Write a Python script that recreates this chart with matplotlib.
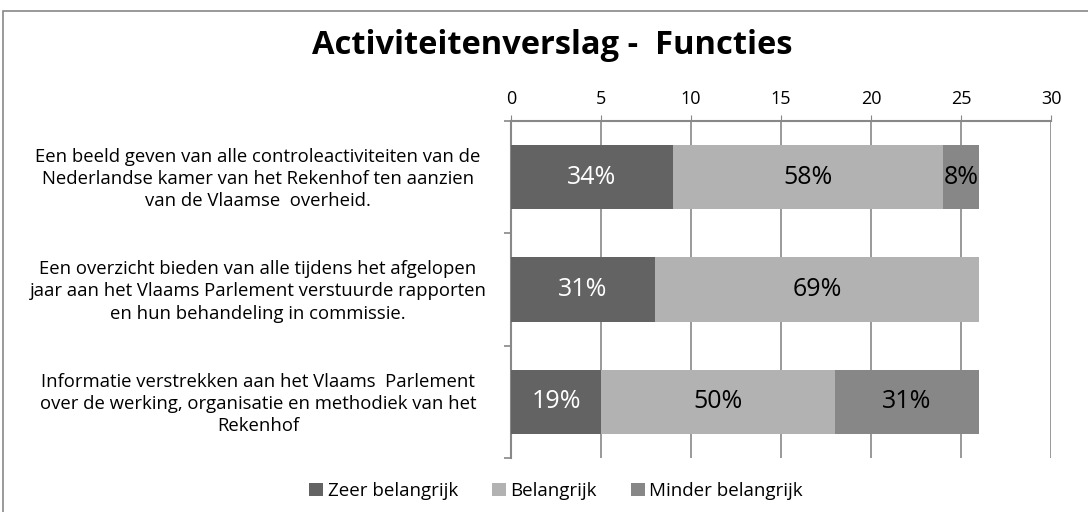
import numpy as np
import matplotlib.pyplot as plt
from matplotlib.patches import Rectangle

categories = [
    "Een beeld geven van alle controleactiviteiten van de\n"
    "Nederlandse kamer van het Rekenhof ten aanzien\n"
    "van de Vlaamse  overheid.",
    "Een overzicht bieden van alle tijdens het afgelopen\n"
    "jaar aan het Vlaams Parlement verstuurde rapporten\n"
    "en hun behandeling in commissie.",
    "Informatie verstrekken aan het Vlaams  Parlement\n"
    "over de werking, organisatie en methodiek van het\n"
    "Rekenhof",
]
series = ["Zeer belangrijk", "Belangrijk", "Minder belangrijk"]
zeer = [9, 8, 5]
belangrijk = [15, 18, 13]
minder = [2, 0, 8]
pct_labels = [
    ["34%", "31%", "19%"],
    ["58%", "69%", "50%"],
    ["8%", "", "31%"],
]
colors = ["#636363", "#b2b2b2", "#878787"]
text_colors = ["white", "black", "black"]

plt.rcParams["font.family"] = ["Open Sans", "DejaVu Sans"]

fig = plt.figure(figsize=(10.88, 5.12), dpi=100)
fig.patches.append(Rectangle((3 / 1088, -0.1), 1.2, 1.1 - 11 / 512,
                             transform=fig.transFigure, fill=False,
                             edgecolor="#888888", linewidth=1.2))
ax = fig.add_axes([511 / 1088, 1 - 458 / 512, 540 / 1088, 337 / 512])

y = np.arange(len(categories))
left = np.zeros(len(categories))
values = [zeer, belangrijk, minder]
for i, vals in enumerate(values):
    vals = np.array(vals, dtype=float)
    bars = ax.barh(y, vals, left=left, height=0.57, color=colors[i],
                   label=series[i], zorder=3)
    for j, b in enumerate(bars):
        if vals[j] > 0:
            ax.text(left[j] + vals[j] / 2, y[j], pct_labels[i][j],
                    ha="center", va="center", fontsize=18,
                    color=text_colors[i], zorder=4)
    left += vals

ax.set_xlim(0, 30)
ax.set_ylim(len(categories) - 0.5, -0.5)
ax.set_xticks(np.arange(0, 31, 5))
ax.xaxis.tick_top()
ax.tick_params(axis="x", length=4, color="#888888", labelsize=13, pad=5)
ax.grid(axis="x", color="#888888", linewidth=1.2, zorder=0)
ax.set_yticks(y)
ax.set_yticklabels([])
ax.tick_params(axis="y", length=0)
ax.set_yticks(np.arange(-0.5, len(categories)), minor=True)
ax.tick_params(axis="y", which="minor", length=5, color="#888888", width=1.2)
for s in ["right", "bottom"]:
    ax.spines[s].set_visible(False)
for s in ["left", "top"]:
    ax.spines[s].set_color("#888888")
    ax.spines[s].set_linewidth(1.5)

for j, c in enumerate(categories):
    ypix = ax.transData.transform((0, y[j]))[1]
    fig.text(258 / 1088, (ypix - 2) / 512, c, ha="center", va="center",
             fontsize=13.3, linespacing=1.3)

fig.text(552 / 1088, 1 - 45 / 512, "Activiteitenverslag -  Functies",
         ha="center", va="center", fontsize=23.5, fontweight="bold")

fig.legend(loc="center", bbox_to_anchor=(556 / 1088, 1 - 491 / 512),
           ncol=3, frameon=False, fontsize=13.5, handlelength=0.75,
           handleheight=0.75, handletextpad=0.25, columnspacing=1.8)

fig.savefig("out.png", dpi=100)
